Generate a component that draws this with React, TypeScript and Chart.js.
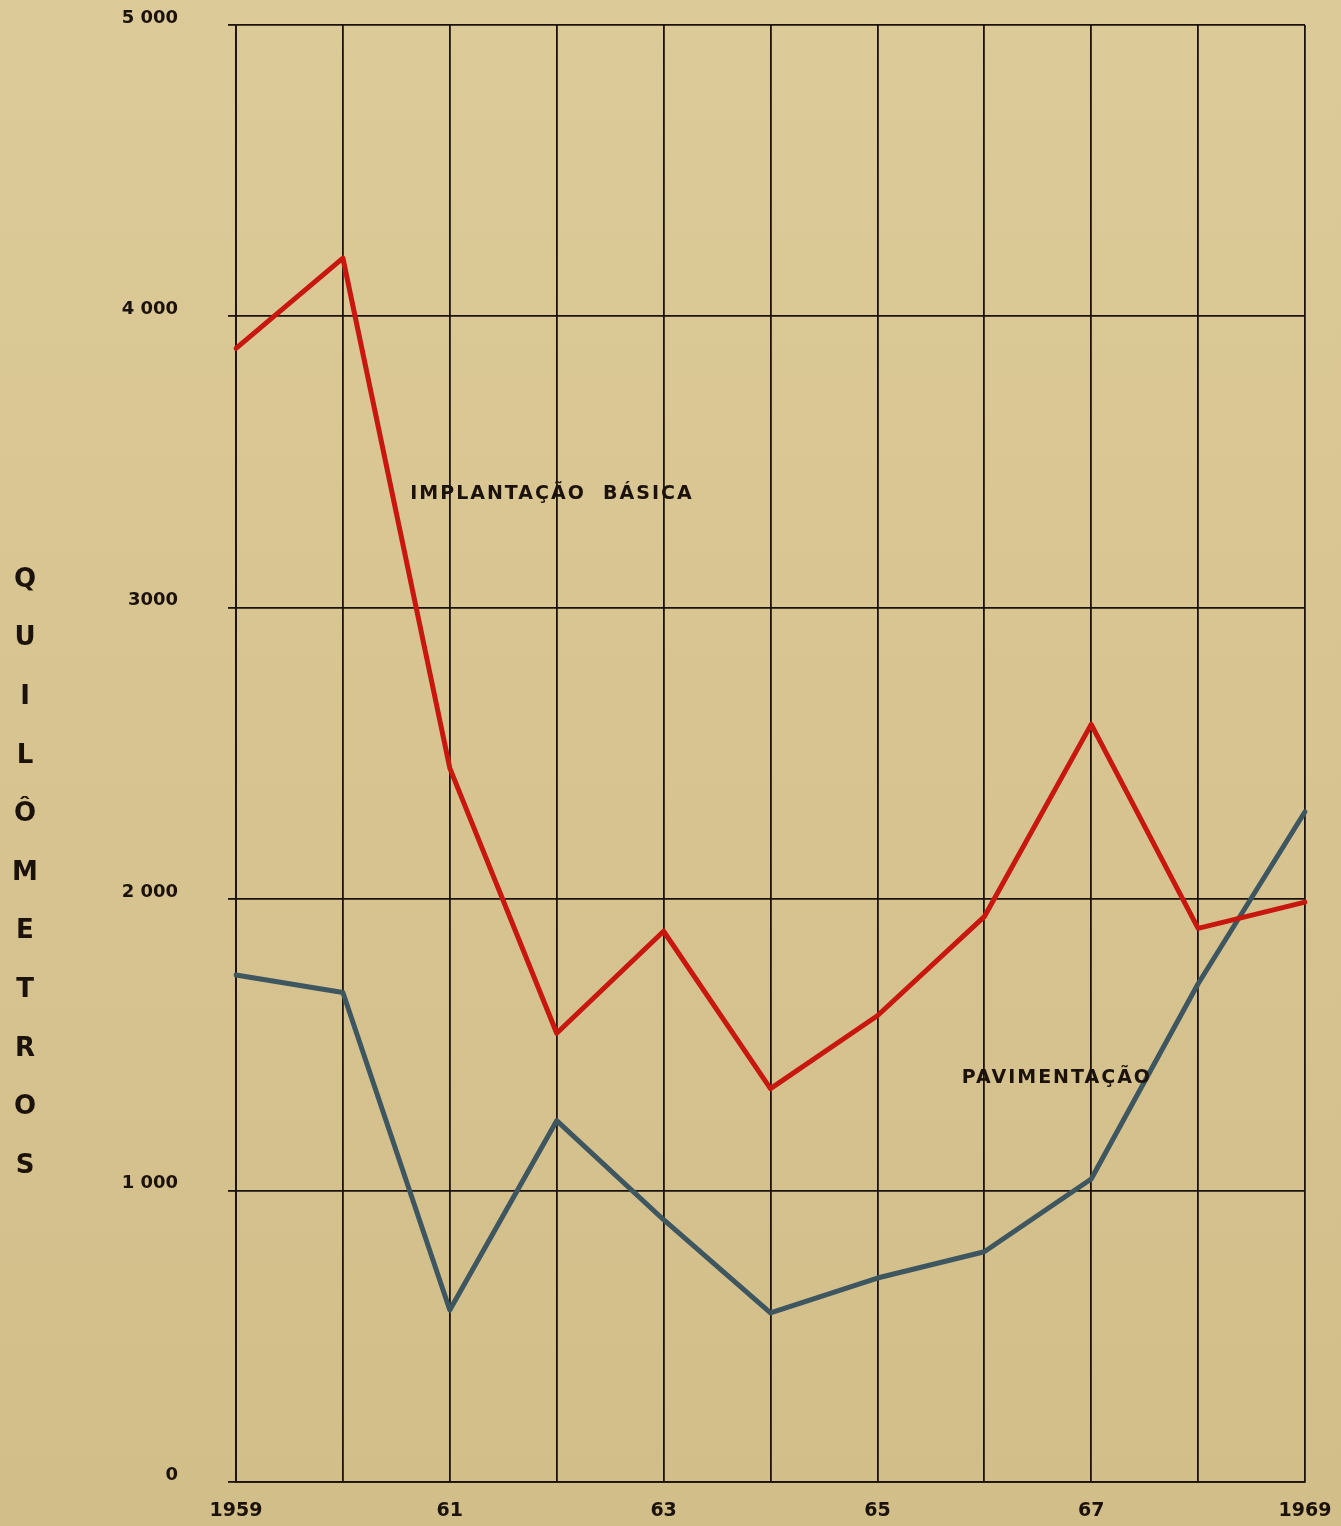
import React, { useEffect, useRef } from "react";
import { Chart, registerables } from "chart.js";

Chart.register(...registerables);

const years = ["1959", "1960", "1961", "1962", "1963", "1964", "1965", "1966", "1967", "1968", "1969"];
const yearTickLabels = ["1959", "", "61", "", "63", "", "65", "", "67", "", "1969"];
const implantacaoBasica = [3890, 4200, 2450, 1540, 1890, 1350, 1600, 1940, 2600, 1900, 1990];
const pavimentacao = [1740, 1680, 590, 1240, 900, 580, 700, 790, 1040, 1710, 2300];
const yTickLabels: Record<number, string> = { 0: "0", 1000: "1 000", 2000: "2 000", 3000: "3000", 4000: "4 000", 5000: "5 000" };
const axisTitle = "QUILÔMETROS";
const seriesLabels = ["IMPLANTAÇÃO  BÁSICA", "PAVIMENTAÇÃO"];
const labelAnchors = [
  { x: 1.63, y: 3390 },
  { x: 6.79, y: 1386 },
];

const W = 1341;
const H = 1526;
const BG = "#d8c592";
const INK = "#1c120c";

export default function App() {
  const ref = useRef<HTMLCanvasElement | null>(null);

  useEffect(() => {
    document.body.style.margin = "0";
    const canvas = ref.current;
    if (!canvas) return;

    const decor = {
      id: "decor",
      beforeDraw(chart: any) {
        const ctx = chart.ctx;
        ctx.save();
        const g = ctx.createLinearGradient(0, 0, 0, H);
        g.addColorStop(0, "#dcca98");
        g.addColorStop(1, "#d2be89");
        ctx.fillStyle = g;
        ctx.fillRect(0, 0, W, H);
        ctx.restore();
      },
      afterDraw(chart: any) {
        const ctx = chart.ctx;
        ctx.save();
        ctx.fillStyle = INK;
        ctx.textAlign = "center";
        ctx.textBaseline = "middle";
        ctx.font = "bold 26px 'DejaVu Sans'";
        const letters = Array.from(axisTitle);
        letters.forEach((ch, i) => {
          ctx.fillText(ch, 25, 580 + i * 58.6);
        });
        ctx.font = "bold 19px 'DejaVu Sans'";
        ctx.textAlign = "left";
        const xs = chart.scales.x;
        const ys = chart.scales.y;
        seriesLabels.forEach((t, i) => {
          const px = xs.getPixelForValue(labelAnchors[i].x);
          const py = ys.getPixelForValue(labelAnchors[i].y);
          (ctx as any).letterSpacing = "2px";
          ctx.fillText(t, px, py);
        });
        ctx.restore();
      },
    };

    const chart = new Chart(canvas, {
      type: "line",
      data: {
        labels: years,
        datasets: [
          {
            label: seriesLabels[0],
            data: implantacaoBasica,
            borderColor: "#c8170e",
            borderWidth: 5,
            pointRadius: 0,
            tension: 0,
            borderJoinStyle: "round",
            borderCapStyle: "round",
          },
          {
            label: seriesLabels[1],
            data: pavimentacao,
            borderColor: "#3e5660",
            borderWidth: 5,
            pointRadius: 0,
            tension: 0,
            borderJoinStyle: "round",
            borderCapStyle: "round",
          },
        ],
      },
      options: {
        responsive: false,
        animation: false,
        layout: { padding: { top: 25, right: 36, left: 0, bottom: 0 } },
        plugins: { legend: { display: false }, tooltip: { enabled: false } },
        scales: {
          x: {
            type: "category",
            offset: false,
            grid: { color: INK, lineWidth: 1.8, drawTicks: false },
            border: { color: INK, width: 1.8 },
            ticks: {
              autoSkip: false,
              maxRotation: 0,
              padding: 18,
              color: INK,
              font: { family: "'DejaVu Sans'", size: 19, weight: "bold" },
              callback: (_v: any, i: number) => yearTickLabels[i],
            },
            afterFit: (s: any) => {
              s.height = 44;
              s.paddingLeft = 0;
              s.paddingRight = 0;
            },
          },
          y: {
            min: 0,
            max: 5000,
            grid: { color: INK, lineWidth: 1.8, tickLength: 8 },
            border: { color: INK, width: 1.8 },
            ticks: {
              stepSize: 1000,
              padding: 50,
              labelOffset: -7,
              color: INK,
              font: { family: "'DejaVu Sans'", size: 18, weight: "bold" },
              callback: (v: any) => yTickLabels[Number(v)] ?? "",
            },
            afterFit: (s: any) => {
              s.width = 236;
              s.paddingTop = 0;
              s.paddingBottom = 0;
            },
          },
        },
      },
      plugins: [decor],
    } as any);

    return () => chart.destroy();
  }, []);

  return (
    <div style={{ position: "absolute", left: 0, top: 0, width: W, height: H, background: BG }}>
      <canvas ref={ref} width={W} height={H} style={{ display: "block" }} />
    </div>
  );
}
